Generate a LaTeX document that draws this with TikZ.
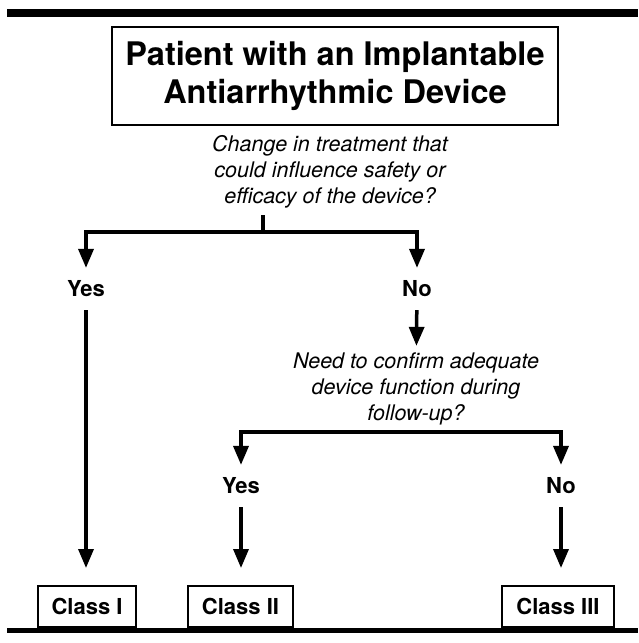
\documentclass[tikz,border=0pt]{standalone}
\usepackage{fontspec}
\setmainfont{TeX Gyre Heros}
\usetikzlibrary{arrows.meta,positioning,calc}

\begin{document}
\begin{tikzpicture}[x=1pt, y=-1pt,
	line/.style={line width=3.5pt},
	arrow/.style={line width=3.5pt, -{Triangle[width=15pt,length=19pt]}},
	question/.style={align=center, inner sep=0pt, outer sep=7pt, font=\fontsize{21.5}{26}\selectfont\itshape},
	answer/.style={inner sep=0pt, outer sep=13pt, font=\fontsize{22}{26}\selectfont\bfseries},
	classbox/.style={draw, line width=2pt, minimum height=41pt, inner xsep=14pt, font=\fontsize{22}{26}\selectfont\bfseries}]
	\useasboundingbox (0,0) rectangle (638,643); % Rand wie im Original
	
	% Balken oben und unten
	\fill (7,9) rectangle (638,17);
	\fill (7,628) rectangle (638,633);
	
	\node[draw, line width=2pt, minimum width=446pt, minimum height=98pt, align=center,
		font=\fontsize{32.5}{38}\selectfont\bfseries] (patient) at (335,76)
		{Patient with an Implantable\\Antiarrhythmic Device};
	
	\node[question] (change) at (330,172) {Change in treatment that\\could influence safety or\\efficacy of the device?};
	\coordinate (fork1) at (263,232);
	\node[answer] (yes1) at (86,289) {Yes};
	\node[answer] (no1) at (417,289) {No};
	
	\node[question] (confirm) at (416,389) {Need to confirm adequate\\device function during\\follow-up?};
	\coordinate (fork2) at (416,432);
	\node[answer] (yes2) at (241,486) {Yes};
	\node[answer] (no2) at (561,486) {No};
	
	\node[classbox] (class1) at (87,606.5) {Class I};
	\node[classbox] (class2) at (240.5,606.5) {Class II};
	\node[classbox] (class3) at (558,606.5) {Class III};
	
	\draw[line] (change.south -| fork1) -- (fork1);
	\draw[arrow] (fork1) -| (yes1);
	\draw[arrow] (fork1) -| (no1);
	\draw[arrow] (no1) -- (confirm);
	\draw[arrow] (fork2) -| (yes2);
	\draw[arrow] (fork2) -| (no2);
	
	\draw[arrow, shorten >=17pt] (yes1) -- (yes1 |- class1.north);
	\draw[arrow, shorten >=17pt] (yes2) -- (yes2 |- class2.north);
	\draw[arrow, shorten >=17pt] (no2) -- (no2 |- class3.north);
	
	%\draw[help lines, step=50] (0,0) grid (638,643);
\end{tikzpicture}
\end{document}
